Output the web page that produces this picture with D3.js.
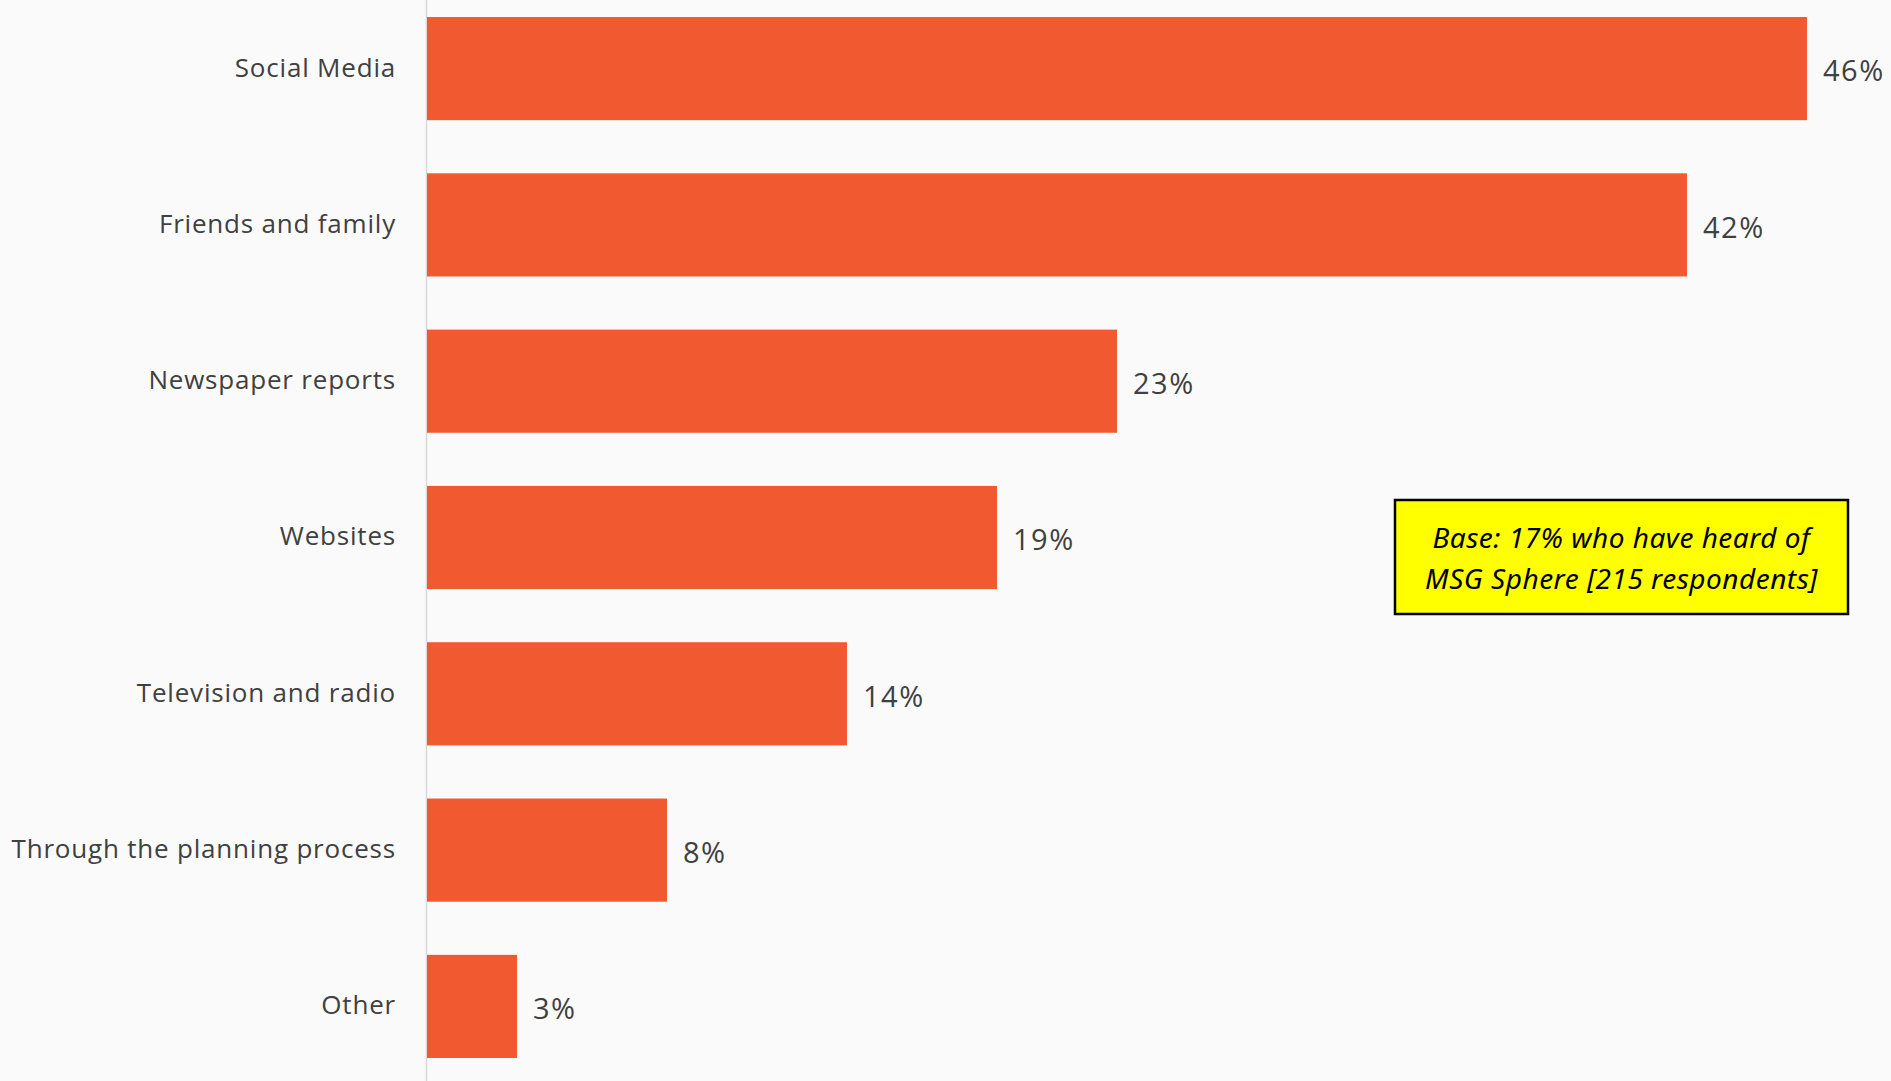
<!DOCTYPE html>
<html>
<head>
<meta charset="utf-8">
<script src="https://cdn.jsdelivr.net/npm/d3@7"></script>
<style>
  html, body { margin: 0; padding: 0; background: #fafafa; }
  svg { display: block; }
</style>
</head>
<body>
<svg id="chart" width="1891" height="1081"></svg>
<script>
const categories = ["Social Media", "Friends and family", "Newspaper reports", "Websites", "Television and radio", "Through the planning process", "Other"];
const values = [46, 42, 23, 19, 14, 8, 3];
const valueLabels = ["46%", "42%", "23%", "19%", "14%", "8%", "3%"];
const noteLines = ["Base: 17% who have heard of", "MSG Sphere [215 respondents]"];

const W = 1891, H = 1081;
const svg = d3.select("#chart");

svg.append("rect").attr("width", W).attr("height", H).attr("fill", "#fafafa");

const x0 = 427;
const x = d3.scaleLinear().domain([0, 10]).range([x0, x0 + 300]);
const y = d3.scaleBand().domain(categories).range([17, 1058]).paddingInner(0.34).paddingOuter(0);

// axis line
svg.append("line")
  .attr("x1", x0 - 0.5).attr("x2", x0 - 0.5)
  .attr("y1", 0).attr("y2", H)
  .attr("stroke", "#d9d9d9").attr("stroke-width", 1.5);

const data = categories.map((c, i) => ({ c, v: values[i], l: valueLabels[i] }));

svg.selectAll("rect.bar").data(data).join("rect")
  .attr("class", "bar")
  .attr("x", x(0))
  .attr("y", d => y(d.c))
  .attr("width", d => x(d.v) - x(0))
  .attr("height", y.bandwidth())
  .attr("fill", "#f15a31");

svg.selectAll("text.cat").data(data).join("text")
  .attr("class", "cat")
  .attr("x", 396)
  .attr("y", d => y(d.c) + y.bandwidth() / 2 + 1)
  .attr("text-anchor", "end")
  .attr("dominant-baseline", "middle")
  .attr("font-family", "'Open Sans', sans-serif")
  .attr("font-size", 26)
  .attr("letter-spacing", 0.8)
  .attr("fill", "#404040")
  .text(d => d.c);

svg.selectAll("text.val").data(data).join("text")
  .attr("class", "val")
  .attr("x", d => x(d.v) + 16)
  .attr("y", d => y(d.c) + y.bandwidth() / 2 + 5)
  .attr("dominant-baseline", "middle")
  .attr("font-family", "'Open Sans', sans-serif")
  .attr("font-size", 29)
  .attr("letter-spacing", 1.5)
  .attr("fill", "#404040")
  .text(d => d.l);

// note box
const bx = 1395, by = 500, bw = 453, bh = 114;
svg.append("rect")
  .attr("x", bx).attr("y", by).attr("width", bw).attr("height", bh)
  .attr("fill", "#ffff00").attr("stroke", "#000").attr("stroke-width", 2.5);
svg.selectAll("text.note").data(noteLines).join("text")
  .attr("class", "note")
  .attr("x", bx + bw / 2)
  .attr("y", (d, i) => by + 40 + i * 41)
  .attr("text-anchor", "middle")
  .attr("dominant-baseline", "middle")
  .attr("font-family", "'Noto Sans', sans-serif")
  .attr("font-style", "italic")
  .attr("font-size", 28)
  .attr("letter-spacing", 0.5)
  .attr("fill", "#000")
  .text(d => d);
</script>
</body>
</html>
